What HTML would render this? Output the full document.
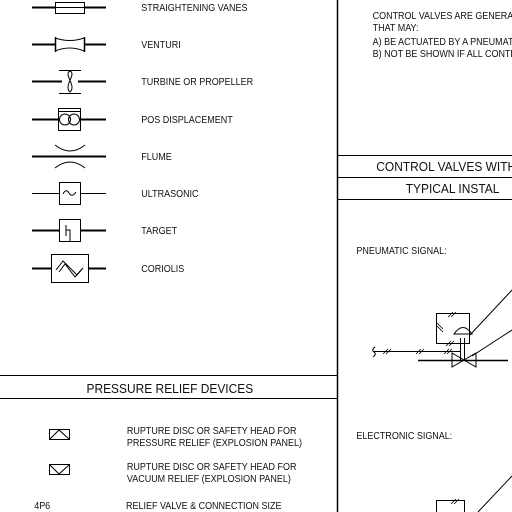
<!DOCTYPE html>
<html><head><meta charset="utf-8"><style>
html,body{margin:0;padding:0;background:#fff;}
svg{display:block}
text{font-family:"Liberation Sans",sans-serif;fill:#111;}
</style></head><body>
<svg width="512" height="512" viewBox="0 0 512 512" xmlns="http://www.w3.org/2000/svg">
<g stroke="#000" fill="none" stroke-width="1">
<line x1="337.5" y1="0" x2="337.5" y2="512" stroke-width="1.5"/>
<line x1="0" y1="375.5" x2="337" y2="375.5"/>
<line x1="0" y1="398.5" x2="337" y2="398.5"/>
<line x1="338" y1="155.5" x2="512" y2="155.5"/>
<line x1="338" y1="177.5" x2="512" y2="177.5"/>
<line x1="338" y1="199.5" x2="512" y2="199.5"/>

<line x1="32" y1="7.5" x2="55" y2="7.5" stroke-width="2"/>
<line x1="84" y1="7.5" x2="106" y2="7.5" stroke-width="2"/>
<rect x="55.5" y="2.5" width="29" height="11"/>
<line x1="55" y1="7.5" x2="84" y2="7.5"/>

<line x1="32" y1="44.5" x2="55" y2="44.5" stroke-width="2"/>
<line x1="84" y1="44.5" x2="106" y2="44.5" stroke-width="2"/>
<line x1="55.5" y1="37" x2="55.5" y2="52" stroke-width="1.5"/>
<line x1="84.5" y1="37" x2="84.5" y2="52" stroke-width="1.5"/>
<path d="M55 38 Q70 43 84 38 M55 51 Q70 45 84 51"/>

<line x1="32" y1="81.5" x2="62" y2="81.5" stroke-width="2"/>
<line x1="78" y1="81.5" x2="106" y2="81.5" stroke-width="2"/>
<line x1="59" y1="70.5" x2="81" y2="70.5"/>
<line x1="59" y1="93.5" x2="81" y2="93.5"/>
<path d="M70 71 C63 74 77 86 70 92 C63 86 77 74 70 71"/>

<line x1="32" y1="119.5" x2="58" y2="119.5" stroke-width="2"/>
<line x1="80" y1="119.5" x2="106" y2="119.5" stroke-width="2"/>
<rect x="58.5" y="108.5" width="22" height="22"/>
<line x1="58" y1="111.5" x2="81" y2="111.5"/>
<circle cx="65" cy="119.5" r="5.5"/>
<circle cx="74" cy="119.5" r="5.5"/>

<line x1="32" y1="156.5" x2="106" y2="156.5" stroke-width="2"/>
<path d="M55 145 Q70 157 85 145 M55 168 Q70 156 85 168"/>

<line x1="32" y1="193.5" x2="59" y2="193.5"/>
<line x1="80" y1="193.5" x2="106" y2="193.5"/>
<rect x="59.5" y="182.5" width="21" height="22"/>
<path d="M63 194 Q66 188 69 193 Q72 198 76 192"/>

<line x1="32" y1="230.5" x2="59" y2="230.5" stroke-width="2"/>
<line x1="80" y1="230.5" x2="106" y2="230.5" stroke-width="2"/>
<rect x="59.5" y="219.5" width="21" height="22"/>
<path d="M66 225 V236 M66 230 H70 V241"/>

<line x1="32" y1="268.5" x2="51" y2="268.5" stroke-width="2"/>
<line x1="88" y1="268.5" x2="106" y2="268.5" stroke-width="2"/>
<rect x="51.5" y="254.5" width="37" height="28"/>
<path d="M56 270 L63 261 L77 275 L83 268 M59 272 L65 264 L75 277 L81 270"/>

<rect x="49.5" y="429.5" width="20" height="10"/>
<path d="M50 439 L59 430 L69 439"/>
<rect x="49.5" y="464.5" width="20" height="10"/>
<path d="M50 465 L59 474 L69 465"/>

<rect x="436.5" y="313.5" width="33" height="30"/>
<path d="M454 334 Q463 321 472 334 Z"/>
<line x1="460.5" y1="338" x2="460.5" y2="360"/>
<line x1="464.5" y1="338" x2="464.5" y2="360"/>
<line x1="374" y1="351.5" x2="460" y2="351.5"/>
<path d="M375 347 Q371 350 374 352 Q377 354 373 357"/>
<line x1="418" y1="360.5" x2="508" y2="360.5" stroke-width="1.5"/>
<path d="M452 353 L452 367 L476 353 L476 367 Z"/>
<line x1="470" y1="335" x2="512" y2="290"/>
<line x1="472" y1="356" x2="512" y2="330"/>
<g stroke-width="0.8">
<path d="M383 354 L388 349 M386 354 L391 349"/>
<path d="M416 354 L421 349 M419 354 L424 349"/>
<path d="M444 354 L449 349 M447 354 L452 349"/>
<path d="M448 317 L453 312 M451 317 L456 312"/>
<path d="M437 323 L443 329 M437 326 L443 332"/>
<path d="M446 346 L451 341 M449 346 L454 341"/>
</g>

<path d="M436.5 512 V500.5 H464.5 V512"/>
<path d="M451 504 L456 499 M454 504 L459 499" stroke-width="0.8"/>
<line x1="478" y1="512" x2="512" y2="476"/>
</g>

<g font-size="10">
<g transform="scale(0.9,1)">
<text x="157" y="11">STRAIGHTENING VANES</text>
<text x="157" y="48">VENTURI</text>
<text x="157" y="85">TURBINE OR PROPELLER</text>
<text x="157" y="123">POS DISPLACEMENT</text>
<text x="157" y="160">FLUME</text>
<text x="157" y="197">ULTRASONIC</text>
<text x="157" y="234">TARGET</text>
<text x="157" y="272">CORIOLIS</text>
<text x="141" y="434">RUPTURE DISC OR SAFETY HEAD FOR</text>
<text x="141" y="446">PRESSURE RELIEF (EXPLOSION PANEL)</text>
<text x="141" y="470">RUPTURE DISC OR SAFETY HEAD FOR</text>
<text x="141" y="482">VACUUM RELIEF (EXPLOSION PANEL)</text>
<text x="38" y="509">4P6</text>
<text x="140" y="509">RELIEF VALVE &amp; CONNECTION SIZE</text>
<text x="414" y="19">CONTROL VALVES ARE GENERALLY</text>
<text x="414" y="31">THAT MAY:</text>
<text x="414" y="45">A) BE ACTUATED BY A PNEUMATIC</text>
<text x="414" y="57">B) NOT BE SHOWN IF ALL CONTROL</text>
<text x="396" y="254">PNEUMATIC SIGNAL:</text>
<text x="396" y="439">ELECTRONIC SIGNAL:</text>
</g>
<g transform="scale(0.92,1)" font-size="13">
<text x="94" y="393">PRESSURE RELIEF DEVICES</text>
<text x="409" y="171">CONTROL VALVES WITH</text>
<text x="441" y="193">TYPICAL INSTAL</text>
</g>
</g>
</svg>
</body></html>
